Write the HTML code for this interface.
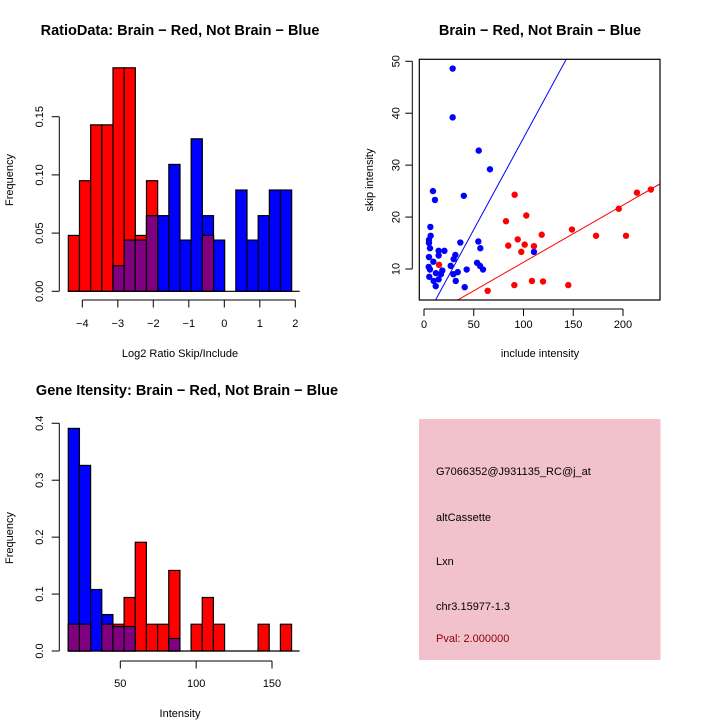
<!DOCTYPE html>
<html><head><meta charset="utf-8"><style>
body{margin:0;background:#fff;}
svg{display:block;font-family:"Liberation Sans",sans-serif;}
</style></head><body>
<svg id="c" width="720" height="720" viewBox="0 0 720 720">
<rect width="720" height="720" fill="#fff"/>
</svg>
<script>
// ---- data: ratio histogram ----
const ratioStart = -4.394;
const ratioBinWidth = 0.3146;
const ratioRed = [0.048,0.095,0.143,0.143,0.192,0.192,0.048,0.095,0,0,0,0,0.048,0,0,0,0,0,0,0];
const ratioBlue = [0,0,0,0,0.022,0.044,0.044,0.065,0.065,0.109,0.044,0.131,0.065,0.044,0,0.087,0.044,0.065,0.087,0.087];
const ratioXTicks = [-4,-3,-2,-1,0,1,2];
const ratioYTicks = ["0.00","0.05","0.10","0.15"];
// ---- data: scatter ----
const blueX = [28.8,28.8,55,66.3,9,11,40,6.4,6.7,5,5,6,5,9.4,4.7,5.3,6,9.7,11.8,12,14.7,17,18.4,14.7,14.7,20.5,26.8,29.8,31.5,29.5,33.9,31.9,40.9,36.5,42.9,54.6,56.6,53.3,56.3,59.3,110.5];
const blueY = [48.6,39.2,32.8,29.2,25,23.3,24.1,18.1,16.4,15.6,15,14,12.3,11.4,10.4,8.5,9.9,7.7,6.7,9.2,8,9,9.7,13.5,12.6,13.5,10.6,11.9,12.7,9,9.4,7.7,6.5,15.1,9.9,15.3,14,11.2,10.6,9.9,13.3];
const redX = [91.1,102.8,82.4,118.3,148.7,94.2,84.7,101.2,110.5,97.8,15.1,172.9,203,195.7,214,228,108.5,119.6,90.8,145,64];
const redY = [24.3,20.3,19.2,16.6,17.6,15.7,14.5,14.7,14.4,13.3,10.8,16.4,16.4,21.6,24.7,25.3,7.7,7.6,6.9,6.9,5.8];
const blueFit = [-0.07,0.353];
const redFit = [0.3,0.110];
const scatXTicks = [0,50,100,150,200];
const scatYTicks = [10,20,30,40,50];
// ---- data: intensity histogram ----
const intStart = 15.7;
const intBinWidth = 7.36;
const intRed = [0.047,0.047,0,0.047,0.047,0.094,0.191,0.047,0.047,0.1415,0,0.047,0.094,0.047,0,0,0,0.047,0,0.047];
const intBlue = [0.391,0.326,0.108,0.064,0.043,0.043,0,0,0,0.022,0,0,0,0,0,0,0,0,0,0];
const intXTicks = [50,100,150];
const intYTicks = ["0.0","0.1","0.2","0.3","0.4"];
const infoLines = ["G7066352@J931135_RC@j_at","altCassette","Lxn","chr3.15977-1.3","Pval: 2.000000"];

const svg = document.getElementById('c');
const NS = 'http://www.w3.org/2000/svg';
function mk(tag, attrs, parent){
  const e = document.createElementNS(NS, tag);
  for (const k in attrs) e.setAttribute(k, attrs[k]);
  (parent||svg).appendChild(e);
  return e;
}
function txt(s, x, y, size, opts, parent){
  const t = mk('text', Object.assign({x:x,y:y,'font-size':size,fill:'#000'}, opts||{}), parent);
  t.textContent = s;
  return t;
}

function histogram(name, start, bw, red, blue, xs, ys){
  const g = mk('g', {});
  
  
  function drawBar(i, v, col, label){
    if (v <= 0) return;
    const x0 = xs(start + i*bw), x1 = xs(start + (i+1)*bw);
    const r = mk('rect', {x:x0, y:ys(v), width:x1-x0, height:ys(0)-ys(v), fill:col, stroke:'#000','stroke-width':1.2}, g);
    
    
  }
  blue.forEach((v,i)=>drawBar(i, v, '#0000ff', 'blue'));
  red.forEach((v,i)=>drawBar(i, v, '#ff0000', 'red'));
  red.forEach((v,i)=>{ if (v>0 && blue[i]>0) drawBar(i, Math.min(v, blue[i]), '#800080', 'overlap'); });
  mk('line', {x1:xs(start), x2:xs(start + red.length*bw)+8, y1:ys(0), y2:ys(0), stroke:'#000','stroke-width':1.2}, g);
  return g;
}

// ===== Top-left =====
(function(){
  const xs = v => 82.3 + (v+4)*35.5;
  const ys = v => 291.3 - v*1164;
  histogram('ratio-histogram', ratioStart, ratioBinWidth, ratioRed, ratioBlue, xs, ys);
  const ax = mk('g', {});
  
  
  mk('line', {x1:xs(-4), x2:xs(2), y1:300, y2:300, stroke:'#000'}, ax);
  ratioXTicks.forEach(t=>{
    mk('line', {x1:xs(t), x2:xs(t), y1:300, y2:307.5, stroke:'#000'}, ax);
    txt(String(t).replace('-','\u2212'), xs(t), 327, 11, {'text-anchor':'middle'}, ax);
  });
  const ay = mk('g', {});
  
  
  mk('line', {x1:59.3, x2:59.3, y1:ys(0), y2:ys(0.15), stroke:'#000'}, ay);
  ratioYTicks.forEach(s=>{
    const v = parseFloat(s);
    mk('line', {x1:51.7, x2:59.3, y1:ys(v), y2:ys(v), stroke:'#000'}, ay);
    txt(s, 43, ys(v), 11, {'text-anchor':'middle', transform:'rotate(-90 43 '+ys(v)+')'}, ay);
  });
  const t1 = txt('RatioData: Brain \u2212 Red, Not Brain \u2212 Blue', 180, 35, 14.5, {'text-anchor':'middle','font-weight':'bold'});
   
  const t2 = txt('Log2 Ratio Skip/Include', 180, 357, 11, {'text-anchor':'middle'});
   
  const t3 = txt('Frequency', 13, 180, 11, {'text-anchor':'middle', transform:'rotate(-90 13 180)'});
   
})();

// ===== Top-right scatter =====
(function(){
  const L=419.3, R=660, T=59.3, B=300;
  const xs = v => 424 + v*0.995;
  const ys = v => 269 - (v-10)*5.193;
  const g = mk('g', {});
  
  
  const defs = mk('clipPath', {id:'sc'}, g);
  mk('rect', {x:L, y:T, width:R-L, height:B-T}, defs);
  const fitLine = (f, col, name) => {
    const x0 = -10, x1 = 250;
    const l = mk('line', {x1:xs(x0), y1:ys(f[0]+f[1]*x0), x2:xs(x1), y2:ys(f[0]+f[1]*x1), stroke:col, 'stroke-width':1, 'clip-path':'url(#sc)'}, g);
    
    
  };
  fitLine(blueFit, '#0000ff', 'blue-fit-line');
  fitLine(redFit, '#ff0000', 'red-fit-line');
  blueX.forEach((x,i)=>{
    const c = mk('circle', {cx:xs(x), cy:ys(blueY[i]), r:3.2, fill:'#0000ff'}, g);
    
    
  });
  redX.forEach((x,i)=>{
    const c = mk('circle', {cx:xs(x), cy:ys(redY[i]), r:3.2, fill:'#ff0000'}, g);
    
    
  });
  mk('rect', {x:L, y:T, width:R-L, height:B-T, fill:'none', stroke:'#000','stroke-width':1.2}, g);
  const ax = mk('g', {});
  
  
  mk('line', {x1:xs(0), x2:xs(200), y1:B+9, y2:B+9, stroke:'#000'}, ax);
  scatXTicks.forEach(t=>{
    mk('line', {x1:xs(t), x2:xs(t), y1:B+9, y2:B+16, stroke:'#000'}, ax);
    txt(String(t), xs(t), B+28, 11, {'text-anchor':'middle'}, ax);
  });
  const ay = mk('g', {});
  
  
  mk('line', {x1:L-7, x2:L-7, y1:ys(10), y2:ys(50), stroke:'#000'}, ay);
  scatYTicks.forEach(t=>{
    mk('line', {x1:L-14, x2:L-7, y1:ys(t), y2:ys(t), stroke:'#000'}, ay);
    txt(String(t), L-20, ys(t), 11, {'text-anchor':'middle', transform:'rotate(-90 '+(L-20)+' '+ys(t)+')'}, ay);
  });
  const t1 = txt('Brain \u2212 Red, Not Brain \u2212 Blue', 540, 35, 14.5, {'text-anchor':'middle','font-weight':'bold'});
   
  const t2 = txt('include intensity', 540, 357, 11, {'text-anchor':'middle'});
   
  const t3 = txt('skip intensity', 373, 180, 11, {'text-anchor':'middle', transform:'rotate(-90 373 180)'});
   
})();

// ===== Bottom-left histogram =====
(function(){
  const xs = v => 120.3 + (v-50)*1.517;
  const ys = v => 651 - v*569.3;
  histogram('intensity-histogram', intStart, intBinWidth, intRed, intBlue, xs, ys);
  const ax = mk('g', {});
  
  
  mk('line', {x1:xs(50), x2:xs(150), y1:661, y2:661, stroke:'#000'}, ax);
  intXTicks.forEach(t=>{
    mk('line', {x1:xs(t), x2:xs(t), y1:661, y2:668.5, stroke:'#000'}, ax);
    txt(String(t), xs(t), 687, 11, {'text-anchor':'middle'}, ax);
  });
  const ay = mk('g', {});
  
  
  mk('line', {x1:59.3, x2:59.3, y1:ys(0), y2:ys(0.4), stroke:'#000'}, ay);
  intYTicks.forEach(s=>{
    const v = parseFloat(s);
    mk('line', {x1:51.7, x2:59.3, y1:ys(v), y2:ys(v), stroke:'#000'}, ay);
    txt(s, 43, ys(v), 11, {'text-anchor':'middle', transform:'rotate(-90 43 '+ys(v)+')'}, ay);
  });
  const t1 = txt('Gene Itensity: Brain \u2212 Red, Not Brain \u2212 Blue', 187, 395, 14.5, {'text-anchor':'middle','font-weight':'bold'});
   
  const t2 = txt('Intensity', 180, 717, 11, {'text-anchor':'middle'});
   
  const t3 = txt('Frequency', 13, 538, 11, {'text-anchor':'middle', transform:'rotate(-90 13 538)'});
   
})();

// ===== Info panel =====
(function(){
  const g = mk('g', {});
  
  
  mk('rect', {x:419, y:419, width:241.5, height:241, fill:'#f2c2cc'}, g);
  const ys = [475, 521, 565, 610, 642];
  infoLines.forEach((s,i)=>{
    const t = txt(s, 436, ys[i], 11, {fill: i===4 ? '#8b0000' : '#000'}, g);
    
    
  });
})();
</script>
</body></html>
